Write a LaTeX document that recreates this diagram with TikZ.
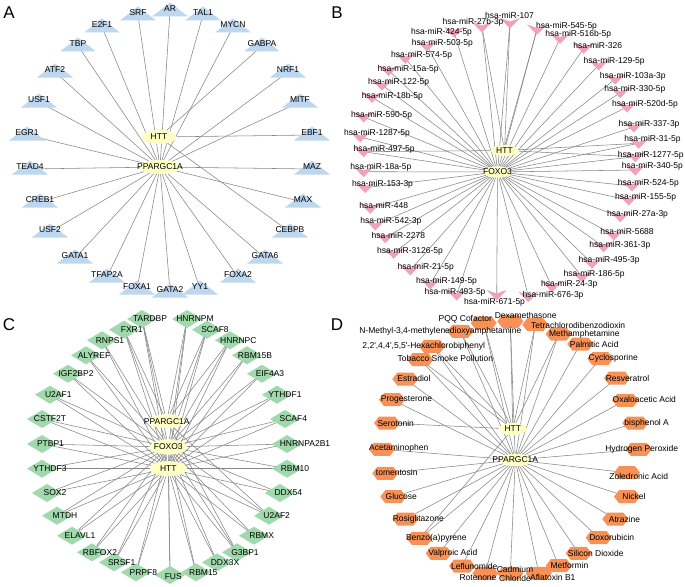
\documentclass[tikz,border=0pt]{standalone}
\usepackage{fontspec}
\setmainfont{Liberation Sans}
\usetikzlibrary{shapes.geometric}
\pgfdeclarelayer{bg}
\pgfdeclarelayer{edges}
\pgfdeclarelayer{shapes}
\pgfsetlayers{bg,edges,shapes,main}
\definecolor{tricol}{RGB}{189,215,238}
\definecolor{chevcol}{RGB}{242,162,182}
\definecolor{diacol}{RGB}{160,218,172}
\definecolor{hexcol}{RGB}{247,145,88}
\definecolor{ellcol}{RGB}{255,255,196}
\definecolor{edgecol}{RGB}{135,135,135}
\tikzset{
 lbl/.style={font=\fontsize{8.5}{9.3}\selectfont, inner sep=0pt, text=black, align=center},
 edge/.style={draw=edgecol, line width=0.55pt},
 centre/.style={ellipse, fill=ellcol, inner sep=0pt},
 panel/.style={font=\fontsize{17}{17}\selectfont, inner sep=0pt}
}
\newcommand{\TriN}[4]{%
 \coordinate (#1) at (#2,#3+2);
 \begin{pgfonlayer}{shapes}\fill[tricol] (#2-18,#3+7.5) -- (#2,#3-6.5) -- (#2+18,#3+7.5) -- cycle;\end{pgfonlayer}
 \node[lbl] (#1t) at (#2,#3) {#4};}
\newcommand{\ChevN}[6]{%
 \coordinate (#1) at (#2,#3);
 \begin{pgfonlayer}{shapes}\fill[chevcol] (#2-10,#3-5) -- (#2,#3-1.5) -- (#2+10,#3-5) -- (#2,#3+5.5) -- cycle;\end{pgfonlayer}
 \node[lbl] (#1t) at (#4,#5) {#6};}
\newcommand{\DiaN}[6]{%
 \coordinate (#1) at (#2,#3);
 \begin{pgfonlayer}{shapes}\fill[diacol] (#2-15,#3) -- (#2,#3-9) -- (#2+15,#3) -- (#2,#3+9) -- cycle;\end{pgfonlayer}
 \node[lbl] (#1t) at (#4,#5) {#6};}
\newcommand{\HexN}[6]{%
 \coordinate (#1) at (#2,#3);
 \begin{pgfonlayer}{shapes}\fill[hexcol] (#2-13,#3) -- (#2-8,#3-6.5) -- (#2+8,#3-6.5) -- (#2+13,#3) -- (#2+8,#3+6.5) -- (#2-8,#3+6.5) -- cycle;\end{pgfonlayer}
 \node[lbl] (#1t) at (#4,#5) {#6};}
\newcommand{\EllN}[6]{%
 \begin{pgfonlayer}{shapes}\node[centre, minimum width=#4pt, minimum height=#5pt] (#1) at (#2,#3) {};\end{pgfonlayer}
 \node[lbl] (#1t) at (#1) {#6};}
\begin{document}
\begin{tikzpicture}[x=1pt,y=-1pt]
\useasboundingbox (0,0) rectangle (685,586);
\begin{pgfonlayer}{bg}\fill[white] (0,0) rectangle (685,586);\end{pgfonlayer}
% ---------------- Panel letters
\node[panel] (pA) at (9,12.5) {A};
\node[panel] (pB) at (337,12.5) {B};
\node[panel] (pC) at (9,324.5) {C};
\node[panel] (pD) at (337,324.5) {D};
% ---------------- Panel A
\TriN{aSRF}{138}{13}{SRF}
\TriN{aAR}{170}{9}{AR}
\TriN{aTAL}{203}{13}{TAL1}
\TriN{aE2F}{102}{25}{E2F1}
\TriN{aMYCN}{233}{25}{MYCN}
\TriN{aTBP}{78}{44}{TBP}
\TriN{aGABPA}{262}{44}{GABPA}
\TriN{aATF}{55}{70}{ATF2}
\TriN{aNRF}{288}{70}{NRF1}
\TriN{aUSFa}{39}{100}{USF1}
\TriN{aMITF}{300}{100}{MITF}
\TriN{aEGR}{27}{133}{EGR1}
\TriN{aEBF}{312}{133}{EBF1}
\TriN{aTEAD}{30}{167}{TEAD4}
\TriN{aMAZ}{312}{167}{MAZ}
\TriN{aCREB}{40}{200}{CREB1}
\TriN{aMAX}{303}{200}{MAX}
\TriN{aUSFb}{50}{230}{USF2}
\TriN{aCEBPB}{290}{230}{CEBPB}
\TriN{aGATAa}{75}{256}{GATA1}
\TriN{aGATAf}{265}{256}{GATA6}
\TriN{aTFAP}{107}{275}{TFAP2A}
\TriN{aFOXAb}{238}{275}{FOXA2}
\TriN{aFOXAa}{137}{287}{FOXA1}
\TriN{aGATAb}{170}{290}{GATA2}
\TriN{aYY}{200}{287}{YY1}
\EllN{aHTT}{159}{137}{35}{14}{HTT}
\EllN{aPG}{160}{167}{40}{14}{PPARGC1A}
% ---------------- Panel B
\ChevN{b1}{510}{23}{509.5}{15}{hsa-miR-107}
\ChevN{b2}{482}{27}{473}{22.7}{hsa-miR-27b-3p}
\ChevN{b3}{537}{29.5}{566.5}{26}{hsa-miR-545-5p}
\ChevN{b4}{454}{32}{441.5}{32.7}{hsa-miR-424-5p}
\ChevN{b5}{560}{38.5}{578.3}{34.3}{hsa-miR-516b-5p}
\ChevN{b6}{427}{46}{442.3}{43.3}{hsa-miR-503-5p}
\ChevN{b7}{583.7}{48.3}{597.8}{45}{hsa-miR-326}
\ChevN{b8}{405.3}{58.3}{421.7}{55.7}{hsa-miR-574-5p}
\ChevN{b9}{598.7}{65}{614.2}{61.7}{hsa-miR-129-5p}
\ChevN{b10}{388.7}{70.5}{408.2}{69}{hsa-miR-15a-5p}
\ChevN{b11}{615.3}{79}{632.8}{76.7}{hsa-miR-103a-3p}
\ChevN{b12}{382}{85}{398.7}{82}{hsa-miR-122-5p}
\ChevN{b13}{620.3}{92.7}{634.8}{89.3}{hsa-miR-330-5p}
\ChevN{b14}{372}{97.5}{392.3}{96.7}{hsa-miR-18b-5p}
\ChevN{b15}{627}{107}{645}{104.3}{hsa-miR-520d-5p}
\ChevN{b16}{363.7}{117}{381.7}{115.3}{hsa-miR-590-5p}
\ChevN{b17}{633.7}{127}{649}{124}{hsa-miR-337-3p}
\ChevN{b18}{360.3}{137}{377}{133.3}{hsa-miR-1287-5p}
\ChevN{b19}{638.7}{143.3}{652.5}{139.3}{hsa-miR-31-5p}
\ChevN{b20}{363.7}{151.7}{384.2}{149.3}{hsa-miR-497-5p}
\ChevN{b21}{635.3}{156.7}{650.8}{155}{hsa-miR-1277-5p}
\ChevN{b22}{363.7}{171.7}{380.8}{167.3}{hsa-miR-18a-5p}
\ChevN{b23}{635.3}{170}{652.3}{166.7}{hsa-miR-340-5p}
\ChevN{b24}{365.3}{187.7}{382.5}{184.3}{hsa-miR-153-3p}
\ChevN{b25}{632}{186}{648.3}{183.3}{hsa-miR-524-5p}
\ChevN{b26}{628.7}{200}{645.7}{197.7}{hsa-miR-155-5p}
\ChevN{b27}{370.3}{208.3}{383.7}{205}{hsa-miR-448}
\ChevN{b28}{620.3}{216.7}{637.5}{214}{hsa-miR-27a-3p}
\ChevN{b29}{375.3}{225}{390.8}{221}{hsa-miR-542-3p}
\ChevN{b30}{613.7}{235}{627}{231.7}{hsa-miR-5688}
\ChevN{b31}{385.3}{237.7}{398.3}{235.7}{hsa-miR-2278}
\ChevN{b32}{603.7}{246.7}{619.8}{245.7}{hsa-miR-361-3p}
\ChevN{b33}{393.7}{253.3}{410}{251}{hsa-miR-3126-5p}
\ChevN{b34}{592}{263.3}{609.2}{260.7}{hsa-miR-495-3p}
\ChevN{b35}{410.3}{270}{425.8}{267}{hsa-miR-21-5p}
\ChevN{b36}{582}{276.7}{594.2}{274.3}{hsa-miR-186-5p}
\ChevN{b37}{430.3}{284}{446.5}{281.7}{hsa-miR-149-5p}
\ChevN{b38}{552}{286.7}{569.2}{284}{hsa-miR-24-3p}
\ChevN{b39}{456.7}{295}{455}{292.3}{hsa-miR-493-5p}
\ChevN{b40}{496.7}{295}{494.5}{302.3}{hsa-miR-671-5p}
\ChevN{b41}{528.3}{296.7}{553}{295}{hsa-miR-676-3p}
\EllN{bHTT}{504.5}{150.5}{28}{11}{HTT}
\EllN{bFOX}{497.5}{172}{28}{11}{FOXO3}
% ---------------- Panel C
\DiaN{cTAR}{142}{319}{150}{319}{TARDBP}
\DiaN{cHNM}{187}{319}{195}{319}{HNRNPM}
\DiaN{cFXR}{124}{329.7}{131.7}{329.7}{FXR1}
\DiaN{cSCAFe}{207}{329.7}{215}{329.7}{SCAF8}
\DiaN{cRNP}{102}{340.3}{110}{340.3}{RNPS1}
\DiaN{cHNC}{230}{340.3}{238.3}{340.3}{HNRNPC}
\DiaN{cALY}{86}{355.3}{94}{355.3}{ALYREF}
\DiaN{cRBMb}{247}{355.3}{255}{355.3}{RBM15B}
\DiaN{cIGF}{68}{373.7}{76}{373.7}{IGF2BP2}
\DiaN{cEIF}{262}{373.7}{270}{373.7}{EIF4A3}
\DiaN{cUa}{50}{394.7}{58.3}{394.7}{U2AF1}
\DiaN{cYTa}{277}{394.7}{285}{394.7}{YTHDF1}
\DiaN{cCST}{42}{419}{50}{419}{CSTF2T}
\DiaN{cSCAFd}{285}{419}{293.3}{419}{SCAF4}
\DiaN{cPTB}{42}{444}{50.5}{444}{PTBP1}
\DiaN{cHNA}{287}{444}{305}{444}{HNRNPA2B1}
\DiaN{cYTc}{42}{468.7}{50}{468.7}{YTHDF3}
\DiaN{cRBMt}{287}{468.7}{295}{468.7}{RBM10}
\DiaN{cSOX}{47}{493}{55}{493}{SOX2}
\DiaN{cDDXf}{280}{493}{288.3}{493}{DDX54}
\DiaN{cMTD}{57}{515.7}{65}{515.7}{MTDH}
\DiaN{cUb}{269}{515.7}{276.7}{515.7}{U2AF2}
\DiaN{cELA}{72}{535.7}{80}{535.7}{ELAVL1}
\DiaN{cRBMX}{254}{535.7}{261.7}{535.7}{RBMX}
\DiaN{cRBF}{92}{552.3}{100}{552.3}{RBFOX2}
\DiaN{cGBP}{237}{552.3}{245}{552.3}{G3BP1}
\DiaN{cSRS}{114}{562.3}{121.7}{562.3}{SRSF1}
\DiaN{cDDXx}{217}{562.3}{225}{562.3}{DDX3X}
\DiaN{cPRP}{136}{572.3}{143.3}{572.3}{PRPF8}
\DiaN{cFUS}{170}{575}{173.3}{577}{FUS}
\DiaN{cRBMf}{196}{572.3}{203.3}{572.3}{RBM15}
\EllN{cPG}{166.7}{421.3}{36}{14}{PPARGC1A}
\EllN{cFOX}{168.3}{447}{37}{15}{FOXO3}
\EllN{cHTT}{168.3}{468.7}{37}{15}{HTT}
% ---------------- Panel D
\HexN{dPQQ}{483.7}{323}{465.3}{319.7}{PQQ Cofactor}
\HexN{dDEX}{510.3}{321.3}{525.7}{315.5}{Dexamethasone}
\HexN{dTCD}{535.3}{324.7}{578.2}{325}{Tetrachlorodibenzodioxin}
\HexN{dMDMA}{460.3}{331.3}{440.3}{331.3}{N-Methyl-3,4-methylenedioxyamphetamine}
\HexN{dMETH}{558.7}{334}{584.3}{334.5}{Methamphetamine}
\HexN{dPCB}{432}{346.3}{423.7}{346.3}{2,2\textquotesingle,4,4\textquotesingle,5,5\textquotesingle-Hexachlorobiphenyl}
\HexN{dPALM}{580.3}{344}{594.2}{344.5}{Palmitic Acid}
\HexN{dTOB}{420.3}{359.7}{445.3}{358}{Tobacco Smoke Pollution}
\HexN{dCYC}{600.3}{358.7}{613.2}{358.7}{Cyclosporine}
\HexN{dEST}{405.3}{379}{414}{378}{Estradiol}
\HexN{dRES}{617}{378}{627.5}{378}{Resveratrol}
\HexN{dPRO}{392}{399.7}{406.5}{399.7}{Progesterone}
\HexN{dOXA}{625.3}{400.3}{644.3}{399.7}{Oxaloacetic Acid}
\HexN{dSER}{387}{423}{395.7}{423}{Serotonin}
\HexN{dBPA}{635.3}{423}{646.7}{423}{bisphenol A}
\HexN{dACE}{382}{449.3}{398.7}{448.3}{Acetaminophen}
\HexN{dHPO}{638.7}{449.3}{641.7}{449.3}{Hydrogen Peroxide}
\HexN{dTOM}{385.3}{473.3}{396.7}{472.7}{tomentosin}
\HexN{dZOL}{627}{472.7}{638.7}{476.7}{Zoledronic Acid}
\HexN{dGLU}{393.3}{496.7}{401.3}{496.7}{Glucose}
\HexN{dNIC}{627}{496.7}{634}{496.7}{Nickel}
\HexN{dROS}{405.5}{519}{418.3}{519}{Rosiglitazone}
\HexN{dATR}{615.3}{519}{624.5}{519}{Atrazine}
\HexN{dBAP}{419.7}{538.3}{436.3}{538.3}{Benzo(a)pyrene}
\HexN{dDOX}{598.7}{537.7}{611.7}{537.7}{Doxorubicin}
\HexN{dVAL}{438.7}{553.3}{452.8}{553.3}{Valproic Acid}
\HexN{dSIL}{578.7}{553.3}{595.7}{553.3}{Silicon Dioxide}
\HexN{dLEF}{462}{566}{474.2}{566}{Leflunomide}
\HexN{dMET}{558.7}{565.7}{569.5}{565.7}{Metformin}
\HexN{dCAD}{510.3}{573.3}{515}{573.7}{Cadmium\\Chloride}
\HexN{dROT}{485.3}{573.3}{478}{577.7}{Rotenone}
\HexN{dAFL}{538.7}{573.3}{552.8}{577.7}{Aflatoxin B1}
\EllN{dHTT}{512.8}{429}{28}{12}{HTT}
\EllN{dPG}{515.3}{460}{30}{12}{PPARGC1A}
% ---------------- Edges
\begin{pgfonlayer}{edges}
\foreach \n in {aSRF,aAR,aTAL,aE2F,aMYCN,aTBP,aATF,aNRF,aUSFa,aMITF,aEGR,aTEAD,aMAZ,aCREB,aMAX,aUSFb,aGATAa,aGATAf,aTFAP,aFOXAb,aFOXAa,aGATAb,aYY}
  {\draw[edge] (aPG) -- (\n);}
\foreach \n in {aGABPA,aEBF,aCEBPB}
  {\draw[edge] (aHTT) -- (\n);}
\foreach \n in {1,...,41}
  {\draw[edge] (bFOX) -- (b\n);}
\foreach \n in {1,2,3,19,20,21}
  {\draw[edge] (bHTT) -- (b\n);}
\foreach \n in {cTAR,cHNM,cFXR,cSCAFe,cRNP,cHNC,cALY,cRBMb,cIGF,cEIF,cUa,cYTa,cCST,cSCAFd,cPTB,cHNA,cYTc,cRBMt,cSOX,cDDXf,cMTD,cUb,cELA,cRBMX,cRBF,cGBP,cSRS,cDDXx,cPRP,cFUS,cRBMf}
  {\draw[edge] (cHTT) -- (\n); \draw[edge] (cFOX) -- (\n);}
\foreach \n in {cTAR,cHNM,cFXR,cSCAFe,cHNC,cGBP,cUb}
  {\draw[edge] (cPG) -- (\n);}
\foreach \n in {dPQQ,dDEX,dTCD,dMDMA,dMETH,dPCB,dPALM,dTOB,dCYC,dEST,dRES,dPRO,dOXA,dBPA,dACE,dHPO,dTOM,dZOL,dGLU,dNIC,dROS,dATR,dBAP,dDOX,dVAL,dSIL,dLEF,dMET,dCAD,dROT,dAFL}
  {\draw[edge] (dPG) -- (\n);}
\foreach \n in {dPQQ,dDEX,dTCD,dMDMA,dPCB,dTOB,dSER,dBAP,dMETH}
  {\draw[edge] (dHTT) -- (\n);}
\end{pgfonlayer}
\end{tikzpicture}
\end{document}
